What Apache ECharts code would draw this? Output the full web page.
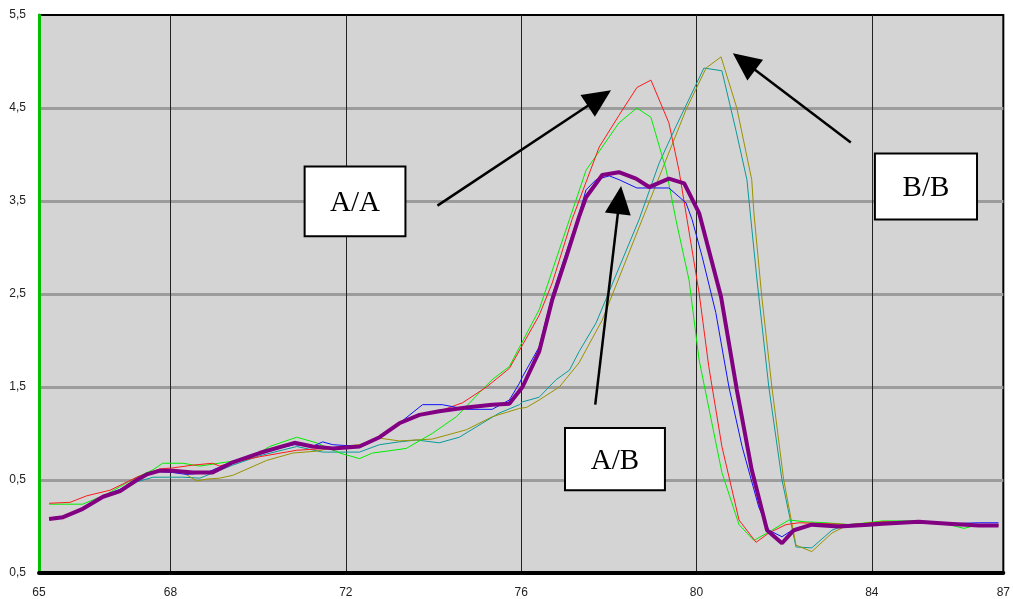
<!DOCTYPE html>
<html>
<head>
<meta charset="utf-8">
<title>melt curves</title>
<script src="https://cdn.jsdelivr.net/npm/echarts@6/dist/echarts.min.js"></script>
<style>
  html, body { margin: 0; padding: 0; background: #fff; }
  #chart { width: 1013px; height: 599px; }
</style>
</head>
<body>
<div id="chart"></div>
<script>
// x tick labels and y tick labels as printed on the original
var xLabels = [65, 68, 72, 76, 80, 84, 87];
var xGrid = [68, 72, 76, 80, 84];
var yLabels = ['0,5', '0,5', '1,5', '2,5', '3,5', '4,5', '5,5'];

// [temperature, value]
var red = [[65.23,0.25],[65.71,0.26],[66.09,0.33],[66.62,0.39],[67.23,0.53],[67.76,0.62],[68.05,0.63],[68.51,0.66],[68.96,0.68],[69.12,0.65],[69.42,0.69],[70.03,0.75],[70.88,0.82],[71.24,0.83],[71.86,0.85],[72.31,0.86],[72.77,0.96],[73.22,1.10],[73.68,1.20],[74.13,1.24],[74.66,1.33],[75.21,1.50],[75.73,1.70],[76.41,2.27],[76.71,2.62],[77.16,3.30],[77.78,4.08],[78.23,4.42],[78.64,4.72],[78.96,4.80],[79.37,4.34],[79.60,3.83],[80.06,2.51],[80.28,1.72],[80.58,0.86],[80.97,0.07],[81.36,-0.17],[81.65,-0.07],[82.04,0.02],[82.34,0.04],[83.00,0.03],[83.50,0.02],[84.25,0.05],[85.07,0.05],[85.75,0.02],[86.44,0.02],[86.89,0.01]];
var green = [[65.23,0.24],[66.00,0.24],[66.55,0.35],[67.23,0.53],[67.60,0.61],[67.82,0.68],[68.28,0.68],[68.67,0.65],[69.81,0.73],[70.26,0.86],[70.88,0.96],[71.33,0.90],[71.86,0.79],[72.31,0.73],[72.61,0.79],[72.93,0.81],[73.38,0.84],[73.97,1.00],[74.52,1.18],[75.05,1.44],[75.34,1.58],[75.73,1.72],[76.41,2.33],[77.10,3.30],[77.48,3.83],[78.23,4.34],[78.64,4.50],[78.96,4.40],[79.31,3.83],[79.53,3.30],[79.83,2.65],[80.06,1.79],[80.58,0.58],[80.97,0.02],[81.31,-0.15],[81.72,-0.04],[82.11,0.07],[82.49,0.05],[82.95,0.04],[83.50,0.02],[84.25,0.06],[85.07,0.06],[85.75,0.02],[86.10,-0.02],[86.44,0.02],[86.89,0.01]];
var blue = [[65.23,0.08],[65.55,0.10],[66.00,0.19],[66.46,0.33],[66.85,0.40],[67.23,0.51],[67.46,0.56],[67.76,0.59],[68.05,0.58],[68.37,0.56],[68.83,0.58],[69.42,0.70],[70.03,0.79],[70.83,0.88],[71.24,0.86],[71.47,0.91],[71.70,0.88],[72.31,0.86],[72.77,0.96],[73.22,1.11],[73.75,1.31],[74.20,1.31],[74.75,1.26],[75.34,1.26],[75.73,1.36],[75.96,1.54],[76.03,1.61],[76.41,1.93],[76.71,2.49],[77.03,2.95],[77.32,3.36],[77.48,3.62],[77.71,3.73],[78.01,3.77],[78.23,3.73],[78.64,3.64],[79.37,3.64],[79.76,3.48],[79.90,3.30],[80.13,2.90],[80.44,2.30],[80.74,1.50],[81.04,0.86],[81.42,0.21],[81.65,-0.04],[81.95,-0.11],[82.18,-0.04],[82.63,0.02],[83.25,0.01],[84.25,0.04],[85.07,0.05],[85.75,0.03],[86.44,0.04],[86.89,0.04]];
var teal = [[65.23,0.09],[65.55,0.11],[66.00,0.19],[66.46,0.31],[66.85,0.37],[67.23,0.48],[67.60,0.53],[68.05,0.53],[68.28,0.53],[68.67,0.52],[69.42,0.66],[70.03,0.76],[70.88,0.86],[71.47,0.80],[72.31,0.80],[72.77,0.88],[73.22,0.91],[73.61,0.93],[74.13,0.90],[74.59,0.96],[75.11,1.11],[75.50,1.22],[75.96,1.31],[76.03,1.34],[76.41,1.39],[76.80,1.58],[77.10,1.68],[77.32,1.88],[77.71,2.19],[78.69,3.30],[79.15,3.91],[79.53,4.30],[80.17,4.93],[80.58,4.90],[80.90,4.26],[81.15,3.73],[81.38,2.65],[81.65,1.50],[81.95,0.50],[82.27,-0.22],[82.63,-0.23],[83.09,-0.04],[83.41,0.02],[84.25,0.04],[85.07,0.05],[85.75,0.02],[86.44,0.02],[86.89,0.02]];
var olive = [[65.23,0.09],[65.55,0.11],[66.00,0.19],[66.46,0.32],[66.85,0.39],[67.46,0.58],[68.05,0.61],[68.28,0.58],[68.60,0.49],[68.83,0.51],[69.12,0.52],[69.42,0.55],[70.19,0.71],[70.79,0.79],[71.33,0.81],[71.86,0.86],[72.31,0.88],[72.77,0.95],[73.22,0.92],[73.97,0.94],[74.75,1.04],[75.34,1.18],[75.96,1.27],[76.12,1.28],[76.41,1.36],[76.87,1.50],[77.32,1.76],[77.85,2.22],[78.76,3.30],[79.21,3.83],[79.76,4.48],[80.22,4.93],[80.56,5.05],[80.92,4.50],[81.26,3.73],[81.31,3.37],[81.49,2.47],[81.72,1.50],[81.99,0.50],[82.27,-0.20],[82.63,-0.27],[83.09,-0.07],[83.47,0.02],[84.25,0.05],[85.07,0.04],[85.75,0.02],[86.44,0.01],[86.89,0.01]];
var purple = [[65.23,0.08],[65.55,0.10],[66.00,0.19],[66.46,0.32],[66.85,0.38],[67.23,0.50],[67.46,0.56],[67.76,0.60],[68.05,0.60],[68.51,0.58],[68.96,0.58],[69.42,0.69],[70.03,0.79],[70.83,0.90],[71.24,0.86],[71.70,0.84],[72.31,0.86],[72.77,0.96],[73.22,1.11],[73.68,1.20],[74.13,1.24],[74.75,1.28],[75.34,1.31],[75.73,1.32],[76.03,1.50],[76.41,1.88],[76.71,2.44],[77.03,2.90],[77.32,3.33],[77.48,3.54],[77.85,3.78],[78.23,3.81],[78.62,3.74],[78.92,3.65],[79.37,3.74],[79.72,3.69],[80.06,3.37],[80.56,2.47],[80.92,1.47],[81.26,0.61],[81.61,-0.04],[81.95,-0.18],[82.22,-0.04],[82.63,0.02],[83.25,0.00],[83.93,0.02],[84.25,0.03],[85.07,0.05],[85.75,0.03],[86.44,0.01],[86.89,0.01]];

// annotation boxes and arrows (data coords)
var labels = ['A/A', 'B/B', 'A/B'];
var boxes = [[71.06, 3.87, 73.36, 3.12], [84.07, 4.01, 86.40, 3.30], [77.00, 1.06, 79.28, 0.39]];
var arrows = [[74.09, 3.45, 78.05, 4.69], [83.52, 4.13, 80.83, 5.09], [77.69, 1.31, 78.28, 3.66]];

function thin(name, data, color) {
  return {
    name: name, type: 'line', data: data, showSymbol: false, silent: true,
    lineStyle: { color: color, width: 1 }
  };
}

var chart = echarts.init(document.getElementById('chart'));
chart.setOption({
  animation: false,
  backgroundColor: '#fff',
  grid: {
    left: 39, right: 8, top: 15, bottom: 26,
    show: true, backgroundColor: '#d4d4d4', borderColor: '#000', borderWidth: 2
  },
  xAxis: {
    type: 'value', min: 65, max: 87,
    axisLine: { onZero: false, lineStyle: { color: '#000', width: 4 } },
    axisTick: { show: false, customValues: xGrid },
    axisLabel: { customValues: xLabels, color: '#222', fontSize: 12, fontFamily: 'Liberation Sans', margin: 14 },
    splitLine: { show: true, lineStyle: { color: '#222', width: 1 } }
  },
  yAxis: {
    type: 'value', min: -0.5, max: 5.5, interval: 1,
    axisLine: { show: true, onZero: false, lineStyle: { color: '#00c000', width: 3 } },
    axisTick: { show: false },
    axisLabel: {
      color: '#222', fontSize: 12, fontFamily: 'Liberation Sans', margin: 13,
      formatter: function (v) { return yLabels[Math.round(v + 0.5)]; }
    },
    splitLine: { show: true, showMinLine: false, showMaxLine: false, lineStyle: { color: '#9c9c9c', width: 3 } }
  },
  series: [
    thin('teal', teal, '#0a9a9a'),
    thin('olive', olive, '#9a9200'),
    thin('green', green, '#00ee00'),
    thin('red', red, '#ff1a1a'),
    thin('blue', blue, '#1010ff'),
    {
      name: 'purple', type: 'line', data: purple, showSymbol: false, silent: true,
      lineStyle: { color: '#820082', width: 4 }
    }
  ]
});

// annotations are placed through the chart's own coordinate system
var g = [];
boxes.forEach(function (b, i) {
  var p1 = chart.convertToPixel({ gridIndex: 0 }, [b[0], b[1]]);
  var p2 = chart.convertToPixel({ gridIndex: 0 }, [b[2], b[3]]);
  g.push({
    type: 'rect', z: 100,
    shape: { x: p1[0], y: p1[1], width: p2[0] - p1[0], height: p2[1] - p1[1] },
    style: { fill: '#fff', stroke: '#000', lineWidth: 2 }
  });
  g.push({
    type: 'text', z: 101,
    x: (p1[0] + p2[0]) / 2, y: (p1[1] + p2[1]) / 2 + 2,
    style: {
      text: labels[i], fill: '#000', font: '29px "Liberation Serif"',
      align: 'center', verticalAlign: 'middle'
    }
  });
});
arrows.forEach(function (a) {
  var t = chart.convertToPixel({ gridIndex: 0 }, [a[0], a[1]]);
  var h = chart.convertToPixel({ gridIndex: 0 }, [a[2], a[3]]);
  var dx = h[0] - t[0], dy = h[1] - t[1];
  var len = Math.sqrt(dx * dx + dy * dy);
  var ux = dx / len, uy = dy / len;
  var hl = 28, hw = 13;
  var bx = h[0] - ux * hl, by = h[1] - uy * hl;
  g.push({
    type: 'line', z: 100,
    shape: { x1: t[0], y1: t[1], x2: bx + ux * 2, y2: by + uy * 2 },
    style: { stroke: '#000', lineWidth: 2.5 }
  });
  g.push({
    type: 'polygon', z: 100,
    shape: { points: [h, [bx - uy * hw, by + ux * hw], [bx + uy * hw, by - ux * hw]] },
    style: { fill: '#000' }
  });
});
chart.setOption({ graphic: g });
</script>
</body>
</html>
